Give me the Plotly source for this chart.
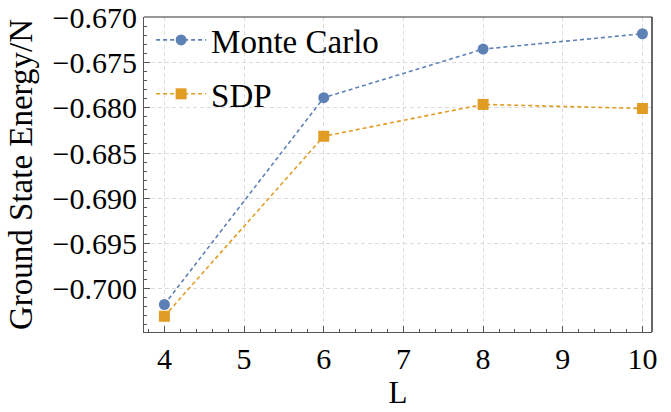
import plotly.graph_objects as go

L_values = [4, 6, 8, 10]
monte_carlo = [-0.70174, -0.67889, -0.67352, -0.67182]
sdp = [-0.70304, -0.68315, -0.67963, -0.68008]
x_ticks = [4, 5, 6, 7, 8, 9, 10]
y_ticks = [-0.700, -0.695, -0.690, -0.685, -0.680, -0.675, -0.670]

BLUE = "#5E81B5"
ORANGE = "#E19C24"
FONT = "Liberation Serif"

fig = go.Figure()
fig.add_trace(go.Scatter(
    x=L_values, y=monte_carlo, name="Monte Carlo", mode="lines+markers",
    legendgroup="mc",
    line=dict(color=BLUE, width=1.6, dash="4px,3px"),
    marker=dict(symbol="circle", size=11, color=BLUE),
))
fig.add_trace(go.Scatter(
    x=L_values, y=sdp, name="SDP", mode="lines+markers",
    legendgroup="sdp",
    line=dict(color=ORANGE, width=1.6, dash="4px,3px"),
    marker=dict(symbol="square", size=11, color=ORANGE),
))

axis_common = dict(
    showline=True, linecolor="#555555", linewidth=1.2, mirror=False,
    ticks="inside", ticklen=6, tickwidth=1, tickcolor="#555555",
    showgrid=True, gridcolor="#dcdcdc", griddash="4px,3px", gridwidth=1,
    zeroline=False, automargin=False, ticklabeloverflow="allow",
    tickfont=dict(family=FONT, size=30, color="black"),
)

fig.update_xaxes(
    **axis_common,
    range=[3.744, 10.12], tickvals=x_ticks, ticktext=[str(v) for v in x_ticks],
    ticklabelstandoff=0,
    title=dict(text="L", font=dict(family=FONT, size=31, color="black"), standoff=5),
    minor=dict(ticks="inside", ticklen=3, dtick=0.2, tick0=4, tickcolor="#555555", showgrid=False),
)
fig.update_yaxes(
    **axis_common,
    range=[-0.70478, -0.66997], tickvals=y_ticks, tickformat=".3f",
    title=dict(text="Ground State Energy/N", font=dict(family=FONT, size=33, color="black"), standoff=9),
    minor=dict(ticks="inside", ticklen=3, dtick=0.001, tick0=-0.7, tickcolor="#555555", showgrid=False),
)

# black frame on top and right
fig.add_shape(type="line", xref="paper", yref="paper", x0=0, x1=1, y0=1, y1=1,
              line=dict(color="#333333", width=1.2))
fig.add_shape(type="line", xref="paper", yref="paper", x0=1, x1=1, y0=0, y1=1,
              line=dict(color="black", width=1.2))

fig.update_layout(
    template="none",
    width=671, height=412,
    margin=dict(l=144, r=19, t=17, b=80, autoexpand=False),
    paper_bgcolor="white", plot_bgcolor="white",
    font=dict(family=FONT, color="black"),
    showlegend=True,
    legend=dict(
        x=0.014, y=1.016, xanchor="left", yanchor="top",
        bgcolor="rgba(0,0,0,0)", borderwidth=0,
        font=dict(family=FONT, size=33, color="black"),
        traceorder="grouped", tracegroupgap=8,
        itemwidth=50,
    ),
)

fig.write_html("out.html", config={"displayModeBar": False},
               post_script="document.body.style.margin='0';")
